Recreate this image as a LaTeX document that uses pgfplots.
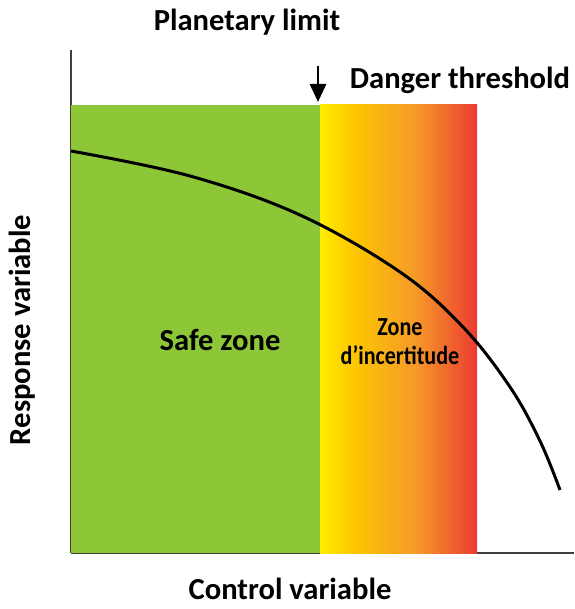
\documentclass[border=0pt]{standalone}
\usepackage{pgfplots}
\pgfplotsset{compat=1.18}
\usepackage{graphicx}
\usepackage{fontspec}
\setmainfont{Carlito}
\usetikzlibrary{arrows.meta}
\definecolor{safegreen}{RGB}{141,198,55}
\definecolor{zyellow}{RGB}{255,236,0}
\definecolor{zgold}{RGB}{253,200,0}
\definecolor{zorange}{RGB}{246,155,40}
\definecolor{zred}{RGB}{235,60,50}
\pgfdeclarehorizontalshading{zone}{100bp}{color(0bp)=(zyellow); color(25bp)=(zyellow); color(35bp)=(zgold); color(55bp)=(zorange); color(75bp)=(zred); color(100bp)=(zred)}
\newcommand\lab{\bfseries\fontsize{15.3}{18}\selectfont}
\begin{document}
\begin{tikzpicture}
\begin{axis}[
  scale only axis, width=251.5pt, height=251.5pt,
  xmin=71, xmax=574, ymin=56, ymax=559,
  axis x line=bottom, axis y line=left,
  axis line style={-, line width=1pt, black!75},
  xtick=\empty, ytick=\empty,
  clip=false,
  xlabel={Control variable}, ylabel={Response variable},
  xlabel style={at={(axis cs:290,20)}, anchor=center, inner sep=0pt, font=\lab},
  ylabel style={at={(axis cs:22,279)}, anchor=center, inner sep=0pt, rotate=0, font=\lab},
]
\coordinate (bl) at (axis cs:0,0);
\coordinate (tr) at (axis cs:574,609);
\addplot[fill=safegreen, draw=none] coordinates {(71,56) (320,56) (320,504) (71,504)} -- cycle;
\addplot[shading=zone, draw=none] coordinates {(320,56) (477,56) (477,504) (320,504)} -- cycle;
\addplot[smooth, tension=0.6, black, line width=1.5pt] coordinates {(71,458) (190,433) (300,394) (400,337) (463,282) (510,222) (540,168) (560,119)};
\draw[line width=1.4pt, -{Triangle[length=9pt,width=8pt]}] (axis cs:318,543) -- (axis cs:318,507);
\node[font=\lab, inner sep=0pt] at (axis cs:247,587) {Planetary limit};
\node[font=\lab, inner sep=0pt] at (axis cs:460,529) {Danger threshold};
\node[font=\lab] at (axis cs:220,269) {Safe zone};
\node[font=\bfseries\fontsize{13}{14.5}\selectfont, align=center] at (axis cs:400,267) {\scalebox{0.85}[1]{Zone}\\\scalebox{0.85}[1]{d’incertitude}};
\end{axis}
\pgfresetboundingbox
\path[use as bounding box] (bl) rectangle (tr);
\end{tikzpicture}
\end{document}
